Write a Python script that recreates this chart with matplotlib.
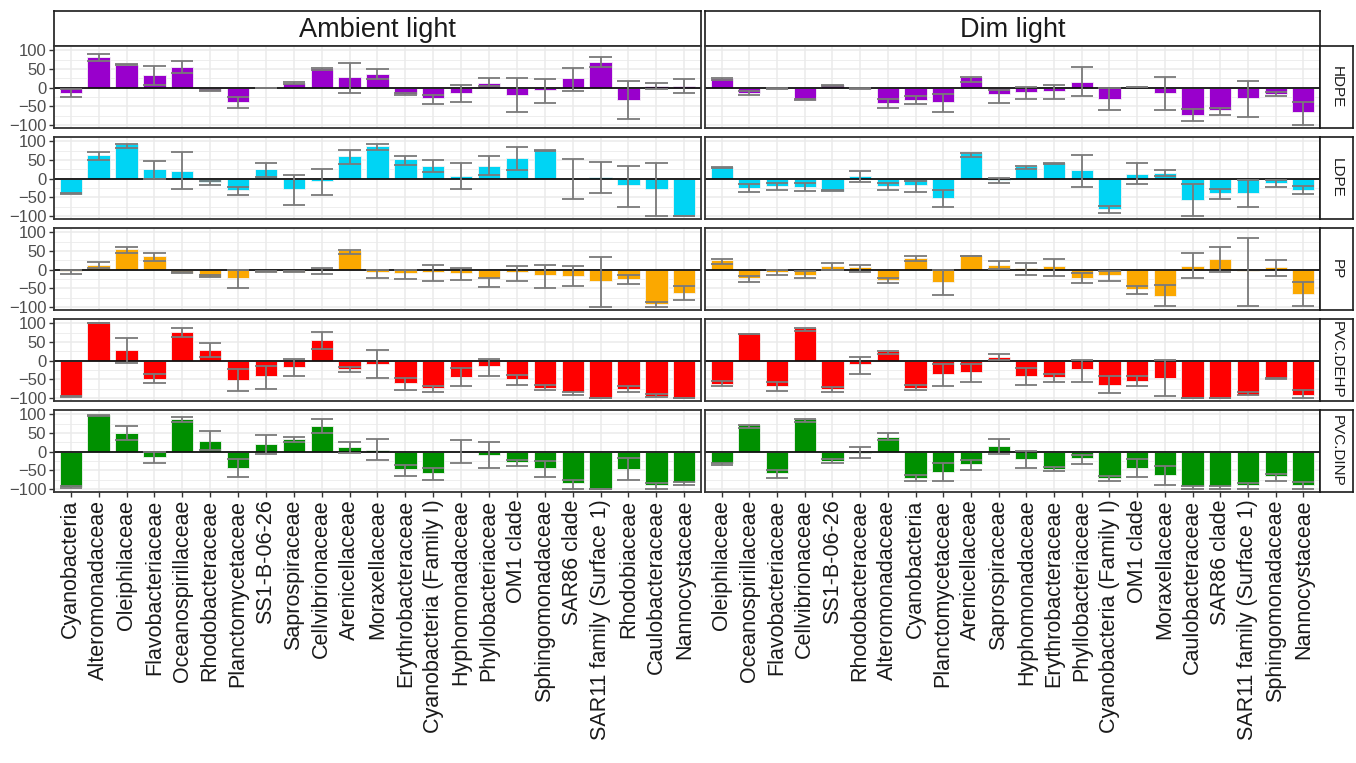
import matplotlib
matplotlib.use("Agg")
import matplotlib.pyplot as plt
from matplotlib.ticker import FixedLocator

plt.rcParams['font.family'] = ['Liberation Sans', 'DejaVu Sans']

# ---------------- data ----------------
amb_cats = ["Cyanobacteria", "Alteromonadaceae", "Oleiphilaceae", "Flavobacteriaceae",
            "Oceanospirillaceae", "Rhodobacteraceae", "Planctomycetaceae", "SS1-B-06-26",
            "Saprospiraceae", "Cellvibrionaceae", "Arenicellaceae", "Moraxellaceae",
            "Erythrobacteraceae", "Cyanobacteria (Family I)", "Hyphomonadaceae",
            "Phyllobacteriaceae", "OM1 clade", "Sphingomonadaceae", "SAR86 clade",
            "SAR11 family (Surface 1)", "Rhodobiaceae", "Caulobacteraceae", "Nannocystaceae"]
dim_cats = ["Oleiphilaceae", "Oceanospirillaceae", "Flavobacteriaceae", "Cellvibrionaceae",
            "SS1-B-06-26", "Rhodobacteraceae", "Alteromonadaceae", "Cyanobacteria",
            "Planctomycetaceae", "Arenicellaceae", "Saprospiraceae", "Hyphomonadaceae",
            "Erythrobacteraceae", "Phyllobacteriaceae", "Cyanobacteria (Family I)", "OM1 clade",
            "Moraxellaceae", "Caulobacteraceae", "SAR86 clade", "SAR11 family (Surface 1)",
            "Sphingomonadaceae", "Nannocystaceae"]

polymers = ["HDPE", "LDPE", "PP", "PVC.DEHP", "PVC.DINP"]
col_titles = ["Ambient light", "Dim light"]

# Ambient light
amb_hdpe    = [-13, 82, 62, 34, 57, -9, -39, 0, 12, 53, 28, 38, -18, -28, -13, 13, -19, -6, 25, 69, -32, 4, 4]
amb_hdpe_lo = [-25, 73, 61, 7, 40, -10, -54, 0, 9, 47, -15, 24, -19, -44, -37, 5, -66, -40, -9, 55, -85, -4, -15]
amb_hdpe_hi = [-3, 90, 63, 59, 72, -7, -24, 0, 15, 53, 66, 50, -13, -20, 8, 26, 26, 24, 53, 82, 17, 13, 24]

amb_ldpe    = [-40, 63, 92, 25, 21, -9, -30, 25, -28, -5, 62, 88, 52, 35, 7, 35, 55, 78, 0, 5, -18, -28, -100]
amb_ldpe_lo = [-40, 51, 83, 0, -28, -18, -43, 5, -71, -43, 40, 77, 38, 17, -28, 11, 23, 74, -53, -37, -77, -100, -100]
amb_ldpe_hi = [-37, 71, 92, 48, 71, -5, -23, 41, 11, 27, 78, 92, 62, 51, 43, 62, 86, 78, 54, 44, 35, 41, -100]

amb_pp    = [-3, 12, 55, 36, -9, -19, -23, -5, -5, 2, 53, -7, -10, -7, -10, -23, -7, -13, -16, -29, -25, -93, -62]
amb_pp_lo = [-12, 4, 46, 24, -10, -19, -48, -6, -6, -12, 42, -21, -25, -31, -28, -45, -31, -48, -44, -100, -38, -100, -80]
amb_pp_hi = [0, 21, 62, 44, -7, -14, 0, -4, -4, 4, 53, 0, 0, 14, 4, -21, 11, 14, 11, 34, -14, -86, -44]

amb_dehp    = [-98, 100, 30, -48, 77, 30, -51, -42, -16, 55, -22, -8, -60, -74, -44, -15, -50, -72, -85, -99, -76, -94, -99]
amb_dehp_lo = [-98, 100, -7, -60, 65, 9, -82, -75, -40, 32, -30, -47, -78, -85, -69, -42, -65, -78, -92, -99, -85, -98, -99]
amb_dehp_hi = [-94, 100, 61, -36, 89, 48, -23, -14, 5, 77, -17, 28, -46, -67, -20, 6, -39, -65, -85, -99, -69, -89, -99]

amb_dinp    = [-94, 99, 50, -14, 88, 30, -44, 20, 34, 69, 12, 4, -47, -57, 0, -8, -28, -44, -85, -100, -47, -88, -81]
amb_dinp_lo = [-96, 96, 32, -29, 81, 4, -68, -7, 25, 49, -4, -23, -65, -75, -30, -43, -39, -68, -99, -100, -77, -99, -88]
amb_dinp_hi = [-92, 99, 68, 0, 94, 56, -19, 45, 39, 87, 26, 33, -36, -43, 32, 26, -22, -26, -75, -100, -17, -83, -81]

# Dim light
dim_hdpe    = [25, -14, -3, -33, 7, -3, -41, -34, -39, 29, -16, -11, -9, 16, -29, 2, -14, -73, -61, -27, -16, -66]
dim_hdpe_lo = [21, -20, -4, -33, 5, -4, -54, -43, -66, 15, -40, -29, -29, -21, -61, 1, -61, -89, -73, -79, -22, -99]
dim_hdpe_hi = [25, -10, -1, -31, 7, -2, -31, -21, -16, 29, -6, 3, 7, 55, -2, 3, 28, -56, -54, 17, -11, -37]

dim_ldpe    = [32, -24, -20, -21, -33, 8, -20, -17, -52, 68, -4, 35, 42, 23, -81, 12, 16, -56, -38, -39, -11, -30]
dim_ldpe_lo = [28, -35, -30, -33, -33, -10, -30, -35, -76, 59, -12, 25, 40, -22, -91, -15, 8, -100, -54, -76, -22, -41]
dim_ldpe_hi = [32, -15, -11, -12, -31, 21, -11, -7, -31, 68, 2, 35, 42, 63, -73, 41, 23, -15, -28, -3, -3, -20]

dim_pp    = [25, -23, -6, -13, 10, 7, -28, 31, -34, 38, 13, 4, 10, -22, -15, -51, -70, 10, 28, -3, 7, -66]
dim_pp_lo = [16, -32, -15, -23, 0, -7, -36, 24, -67, 36, 2, -15, -17, -36, -29, -64, -98, -23, -7, -98, -17, -98]
dim_pp_hi = [28, -17, 0, -4, 19, 13, -22, 38, 0, 38, 23, 19, 30, -9, -4, -44, -41, 44, 62, 85, 25, -32]

dim_dehp    = [-62, 72, -68, 87, -75, -8, 25, -72, -36, -30, 10, -40, -44, -23, -65, -55, -45, -100, -100, -92, -49, -91]
dim_dehp_lo = [-69, 72, -82, 81, -83, -36, 17, -79, -69, -57, 2, -66, -57, -57, -87, -69, -95, -100, -100, -92, -49, -100]
dim_dehp_hi = [-53, 72, -57, 87, -70, 11, 25, -66, -8, -8, 19, -19, -36, 3, -41, -41, 3, -100, -100, -83, -47, -78]

dim_dinp    = [-30, 72, -58, 87, -24, -3, 40, -70, -53, -34, 15, -20, -47, -18, -70, -43, -63, -92, -92, -90, -65, -88]
dim_dinp_lo = [-36, 65, -70, 81, -30, -17, 31, -79, -79, -50, -7, -44, -52, -32, -79, -69, -88, -100, -100, -100, -78, -100]
dim_dinp_hi = [-29, 72, -50, 87, -19, 13, 50, -63, -31, -22, 34, 3, -42, -9, -66, -20, -39, -92, -92, -84, -60, -81]

colors = ["#9900CC", "#00D4F4", "#FBA800", "#FF0000", "#009000"]

amb_data = [(amb_hdpe, amb_hdpe_lo, amb_hdpe_hi), (amb_ldpe, amb_ldpe_lo, amb_ldpe_hi),
            (amb_pp, amb_pp_lo, amb_pp_hi), (amb_dehp, amb_dehp_lo, amb_dehp_hi),
            (amb_dinp, amb_dinp_lo, amb_dinp_hi)]
dim_data = [(dim_hdpe, dim_hdpe_lo, dim_hdpe_hi), (dim_ldpe, dim_ldpe_lo, dim_ldpe_hi),
            (dim_pp, dim_pp_lo, dim_pp_hi), (dim_dehp, dim_dehp_lo, dim_dehp_hi),
            (dim_dinp, dim_dinp_lo, dim_dinp_hi)]

# ---------------- layout ----------------
W, H = 1356, 763
fig = plt.figure(figsize=(W / 100, H / 100), dpi=100)
fig.patch.set_facecolor("white")


def px_axes(x0, y0, x1, y1):
    return fig.add_axes([x0 / W, 1 - y1 / H, (x1 - x0) / W, (y1 - y0) / H])


col_x = [(54, 701), (705, 1320)]
row_top = [46, 137, 228, 319, 410]
row_h = 82
strip_top, strip_bot = 11, 46
rstrip_x = (1320, 1353)
border_col = "#333333"
grid_col = "#EBEBEB"

for c, (cats, data) in enumerate([(amb_cats, amb_data), (dim_cats, dim_data)]):
    x0, x1 = col_x[c]
    # column header strip
    sax = px_axes(x0, strip_top, x1, strip_bot)
    sax.set_xticks([]); sax.set_yticks([])
    for s in sax.spines.values():
        s.set_color("#1a1a1a"); s.set_linewidth(1.2)
    sax.text(0.5, 0.45, col_titles[c], ha="center", va="center", fontsize=19.5,
             color="#1a1a1a", transform=sax.transAxes)

    xs = list(range(len(cats)))
    for r in range(5):
        vals, lo, hi = data[r]
        ax = px_axes(x0, row_top[r], x1, row_top[r] + row_h)
        ax.set_xlim(-0.6, len(cats) - 1 + 0.6)
        ax.set_ylim(-108, 112)
        ax.set_axisbelow(True)
        ax.yaxis.set_major_locator(FixedLocator([-100, -50, 0, 50, 100]))
        ax.yaxis.set_minor_locator(FixedLocator([-75, -25, 25, 75]))
        ax.set_xticks(xs)
        ax.grid(which="major", color=grid_col, lw=1.1)
        ax.grid(which="minor", axis="y", color=grid_col, lw=0.6)
        ax.bar(xs, vals, width=0.8, color=colors[r], edgecolor="#f4f4f4",
               linewidth=0.6, zorder=2)
        ax.axhline(0, color="#111111", lw=1.3, zorder=3)
        ax.vlines(xs, lo, hi, color="#7a7a7a", lw=1.3, zorder=4)
        ax.hlines(lo, [x - 0.4 for x in xs], [x + 0.4 for x in xs], color="#7a7a7a", lw=1.3, zorder=4)
        ax.hlines(hi, [x - 0.4 for x in xs], [x + 0.4 for x in xs], color="#7a7a7a", lw=1.3, zorder=4)
        for s in ax.spines.values():
            s.set_color(border_col); s.set_linewidth(1.3); s.set_zorder(5)
        ax.tick_params(which="minor", length=0)
        if c == 0:
            ax.tick_params(axis="y", which="major", length=3.5, width=1, color=border_col,
                           labelsize=12, labelcolor="#4D4D4D", pad=2)
        else:
            ax.tick_params(axis="y", which="major", length=0, labelleft=False)
        if r == 4:
            ax.set_xticklabels(cats, rotation=90, ha="center", va="top")
            ax.tick_params(axis="x", length=3.5, width=1, color=border_col,
                           labelsize=15.5, labelcolor="#1a1a1a", pad=2)
        else:
            ax.tick_params(axis="x", length=0, labelbottom=False)

        if c == 1:
            rax = px_axes(rstrip_x[0], row_top[r], rstrip_x[1], row_top[r] + row_h)
            rax.set_xticks([]); rax.set_yticks([])
            for s in rax.spines.values():
                s.set_color("#1a1a1a"); s.set_linewidth(1.2)
            rax.text(0.5, 0.5, polymers[r], rotation=270, ha="center", va="center",
                     fontsize=11, color="#1a1a1a", transform=rax.transAxes, clip_on=True)

fig.savefig("out.png", dpi=100, facecolor="white")
